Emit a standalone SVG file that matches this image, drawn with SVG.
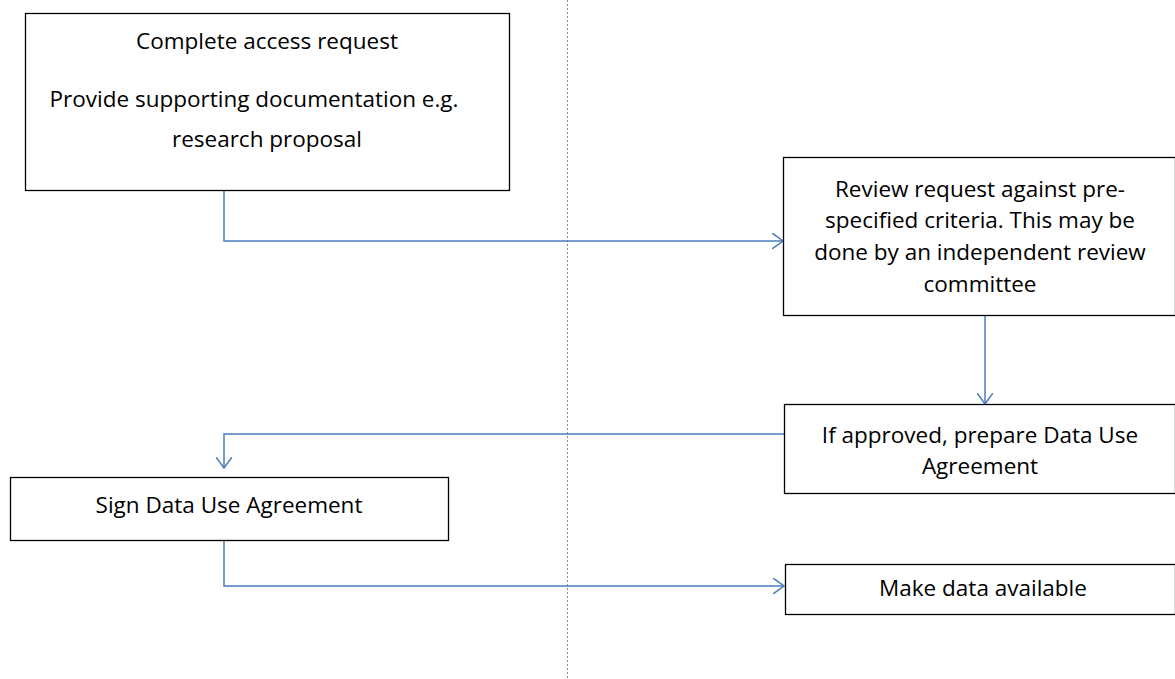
<svg xmlns="http://www.w3.org/2000/svg" width="1175" height="679" viewBox="0 0 1175 679">
<style>
.box{fill:#fff;stroke:#000;stroke-width:1.3}
.t{font-family:"Open Sans","Liberation Sans",sans-serif;font-size:22.5px;fill:#000;text-anchor:middle}
.c{fill:none;stroke:#4A7EBB;stroke-width:1.5}
</style>
<defs>
<marker id="arr" viewBox="0 0 12 16" refX="11" refY="8" markerWidth="12" markerHeight="16" markerUnits="userSpaceOnUse" orient="auto">
<path d="M0,0 L11,8 L0,16" fill="none" stroke="#4A7EBB" stroke-width="1.5"/>
</marker>
</defs>
<line x1="567.5" y1="0" x2="567.5" y2="679" stroke="#8a8a8a" stroke-width="1" stroke-dasharray="2,2"/>
<g id="connectors">
<path class="c" d="M224,190 V241 H783" marker-end="url(#arr)"/>
<path class="c" d="M985,316 V404" marker-end="url(#arr)"/>
<path class="c" d="M784,434 H224 V468" marker-end="url(#arr)"/>
<path class="c" d="M224,540 V586 H784" marker-end="url(#arr)"/>
</g>
<g id="n1">
<rect class="box" x="25.5" y="13.5" width="484" height="177"/>
<text class="t" x="267" y="48.5">Complete access request</text>
<text class="t" x="254" y="107">Provide supporting documentation e.g.</text>
<text class="t" x="267" y="146.5">research proposal</text>
</g>
<g id="n2">
<rect class="box" x="783.5" y="157.5" width="392" height="158"/>
<text class="t" x="980" y="196.5">Review request against pre-</text>
<text class="t" x="980" y="227.5">specified criteria. This may be</text>
<text class="t" x="980" y="259.5">done by an independent review</text>
<text class="t" x="980" y="291.5">committee</text>
</g>
<g id="n3">
<rect class="box" x="784.5" y="404.5" width="391" height="89"/>
<text class="t" x="980" y="442.5">If approved, prepare Data Use</text>
<text class="t" x="980" y="473.5">Agreement</text>
</g>
<g id="n4">
<rect class="box" x="10.5" y="477.5" width="438" height="63"/>
<text class="t" x="229" y="512.5">Sign Data Use Agreement</text>
</g>
<g id="n5">
<rect class="box" x="785.5" y="564.5" width="390" height="50"/>
<text class="t" x="983" y="595.5">Make data available</text>
</g>
</svg>
